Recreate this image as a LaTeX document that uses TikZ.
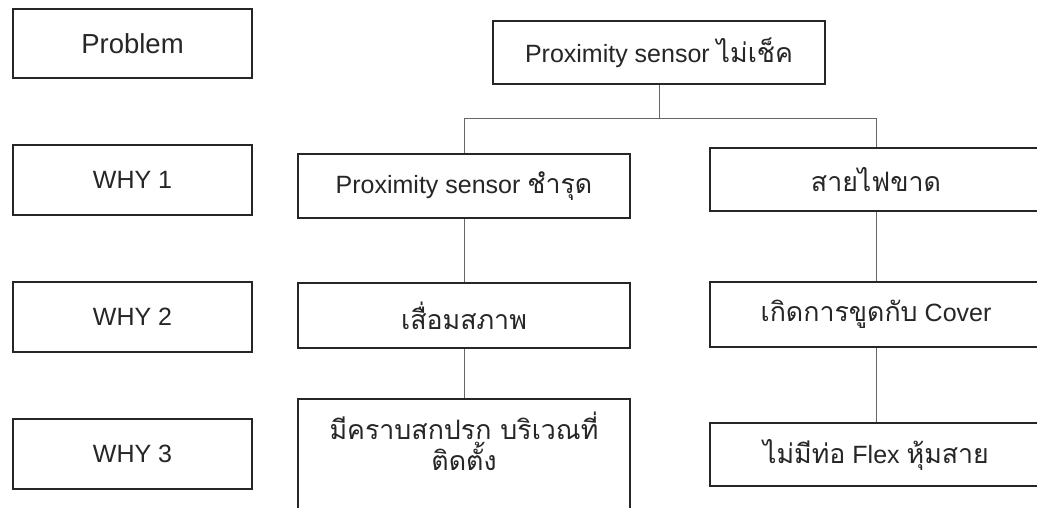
\documentclass[tikz,border=0pt]{standalone}
\usepackage{fontspec}
\setmainfont{Liberation Sans}
\newfontfamily\thai[Script=Thai,Scale=1.07]{Loma}
\begin{document}
\begin{tikzpicture}[x=1pt,y=-1pt,
  box/.style={draw=black!85, line width=1.7pt, inner sep=0pt, align=center,
    font=\fontsize{25}{30}\selectfont, text=black!85},
  link/.style={draw=black!60, line width=1pt}]
\useasboundingbox (0,0) rectangle (1037,507);
\fill[white] (0,0) rectangle (1037,507);
\clip (0,0) rectangle (1037,507);
% level labels
\node[box, minimum width=239pt, minimum height=69pt, font=\fontsize{27.5}{30}\selectfont] (P)  at (132.5,43.5) {Problem};
\node[box, minimum width=239pt, minimum height=70pt] (W1) at (132.5,180) {WHY 1};
\node[box, minimum width=239pt, minimum height=70pt] (W2) at (132.5,317) {WHY 2};
\node[box, minimum width=239pt, minimum height=70pt] (W3) at (132.5,454) {WHY 3};
% tree
\node[box, minimum width=332pt, minimum height=63pt] (T)  at (659,52.5) {Proximity sensor {\thai ไม่เช็ค}};
\node[box, minimum width=332pt, minimum height=64pt] (L1) at (464,186) {Proximity sensor {\thai ชำรุด}};
\node[box, minimum width=332pt, minimum height=63pt] (R1) at (876,179.5) {{\thai สายไฟขาด}};
\node[box, minimum width=332pt, minimum height=65pt] (L2) at (464,315.5) {{\thai เสื่อมสภาพ}};
\node[box, minimum width=332pt, minimum height=65pt] (R2) at (876,314.5) {\raisebox{-1pt}{{\thai เกิดการขูดกับ} Cover}};
\node[box, minimum width=332pt, minimum height=63pt] (R3) at (876,454.5) {{\thai ไม่มีท่อ} Flex {\thai หุ้มสาย}};
\node[box, minimum width=332pt, minimum height=160pt, anchor=north] (L3) at (464,398) {};
\node[font=\fontsize{25}{30}\selectfont, text=black!85, align=center, anchor=north, inner sep=0pt] (L3t) at (464,412)
  {{\thai มีคราบสกปรก บริเวณที่}\\[1pt]{\thai ติดตั้ง}};
% connectors
\coordinate (J)  at (659,118);
\coordinate (JL) at (464,118);
\coordinate (JR) at (876,118);
\draw[link] (T.south) -- (J);
\draw[link] (JL) -- (JR);
\draw[link] (JL) -- (L1.north);
\draw[link] (JR) -- (R1.north);
\draw[link] (L1.south) -- (L2.north);
\draw[link] (L2.south) -- (L3.north);
\draw[link] (R1.south) -- (R2.north);
\draw[link] (R2.south) -- (R3.north);
\end{tikzpicture}
\end{document}
